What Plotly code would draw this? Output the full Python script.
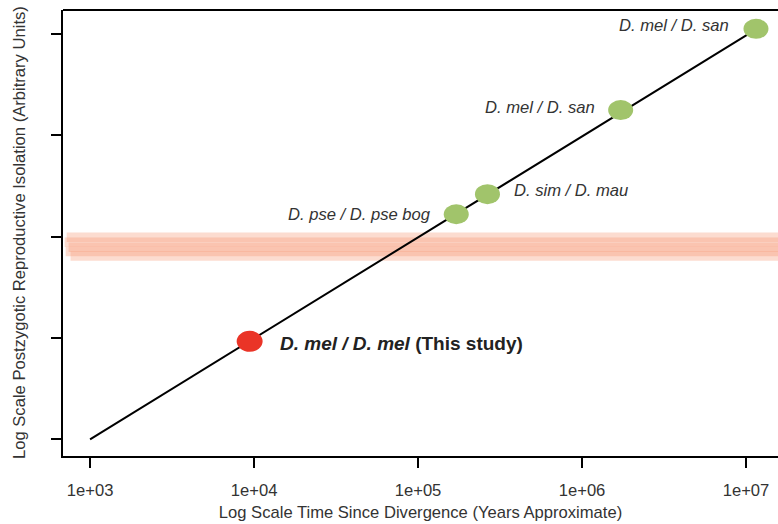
import numpy as np
import plotly.graph_objects as go

# ---- data ----
pair_labels = ["D. mel / D. mel", "D. pse / D. pse bog", "D. sim / D. mau", "D. mel / D. san", "D. mel / D. san"]
divergence_years = [9400, 171000, 265000, 1720000, 11500000]
isolation = [0.967, 2.222, 2.42, 3.25, 4.052]
is_this_study = [True, False, False, False, False]

trend_years = [1000, 11300000]
trend_isolation = [0.0, 4.04]

band_levels = [1.995, 1.945, 1.895, 1.855, 1.81]
band_start_years = [720, 700, 740, 710, 760]
band_end_years = [2.0e7, 2.0e7, 2.0e7, 2.0e7, 2.0e7]

tick_years = [1e3, 1e4, 1e5, 1e6, 1e7]
tick_text = ["1e+03", "1e+04", "1e+05", "1e+06", "1e+07"]
y_ticks = [0, 1, 2, 3, 4]

FONT = "Liberation Sans, Arial, sans-serif"
TXT = "#333333"
GREEN = "#a1c46b"
RED = "#ea3427"

fig = go.Figure()

# translucent threshold band
for lvl, s, e in zip(band_levels, band_start_years, band_end_years):
    fig.add_trace(go.Scatter(
        x=np.log10([s, e]), y=[lvl, lvl], mode="lines",
        line=dict(color="rgba(245,145,110,0.32)", width=9.5),
        hoverinfo="skip", showlegend=False))

# trend line
fig.add_trace(go.Scatter(
    x=np.log10(trend_years), y=trend_isolation, mode="lines",
    line=dict(color="black", width=2), showlegend=False))

# points as ellipses anchored to data
shapes = []
annotations = []
label_shift = {  # (xshift, yshift, xanchor)
    0: (28, -2, "left"),
    1: (-23, 0, "right"),
    2: (25, 4, "left"),
    3: (-24, 3, "right"),
    4: (-25, 3, "right"),
}
for i, (lab, t, v, mine) in enumerate(zip(pair_labels, divergence_years, isolation, is_this_study)):
    lx = float(np.log10(t))
    w, h = (26, 21) if mine else (25, 20)
    shapes.append(dict(
        type="circle", xref="x", yref="y", xsizemode="pixel", ysizemode="pixel",
        xanchor=lx, yanchor=v, x0=-w / 2, x1=w / 2, y0=-h / 2, y1=h / 2,
        fillcolor=RED if mine else GREEN, line=dict(width=0), layer="above"))
    xs, ys, xa = label_shift[i]
    if mine:
        text = "<b><i>" + lab + "</i> (This study)</b>"
        font = dict(family=FONT, size=19, color="#222222")
    else:
        text = "<i>" + lab + "</i>"
        font = dict(family=FONT, size=16.6, color=TXT)
    annotations.append(dict(
        x=lx, y=v, xref="x", yref="y", text=text, showarrow=False,
        xanchor=xa, yanchor="middle", xshift=xs, yshift=ys, font=font))

# box top line
box = dict(color="black", width=2)
shapes.append(dict(type="line", xref="paper", yref="paper", x0=0, x1=1, y0=1, y1=1, line=box))

annotations.append(dict(
    x=0, y=0.5, xref="paper", yref="paper", xshift=-44, textangle=-90,
    text="Log Scale Postzygotic Reproductive Isolation (Arbitrary Units)",
    showarrow=False, xanchor="center", yanchor="middle",
    font=dict(family=FONT, size=16.6, color=TXT)))

fig.update_layout(
    width=778, height=524,
    margin=dict(l=63, r=0, t=10, b=68),
    paper_bgcolor="white", plot_bgcolor="white",
    shapes=shapes, annotations=annotations,
    font=dict(family=FONT, color=TXT),
    xaxis=dict(
        range=[2.835, 7.195], showgrid=False, zeroline=False,
        showline=True, linecolor="black", linewidth=2,
        tickmode="array", tickvals=np.log10(tick_years), ticktext=tick_text,
        ticks="outside", ticklen=10, tickwidth=2, tickcolor="black",
        ticklabelstandoff=8,
        tickfont=dict(family=FONT, size=16.6, color=TXT),
        title=dict(text="Log Scale Time Since Divergence (Years Approximate)",
                   font=dict(family=FONT, size=16.6, color=TXT), standoff=7),
        automargin=False,
    ),
    yaxis=dict(
        range=[-0.165, 4.238], showgrid=False, zeroline=False,
        showline=True, linecolor="black", linewidth=2,
        tickmode="array", tickvals=y_ticks, showticklabels=False,
        ticks="outside", ticklen=10, tickwidth=2, tickcolor="black",
        automargin=False,
    ),
)

fig.write_html("out.html", config={"displayModeBar": False},
               post_script="document.body.style.margin='0';document.body.style.overflow='hidden';")
